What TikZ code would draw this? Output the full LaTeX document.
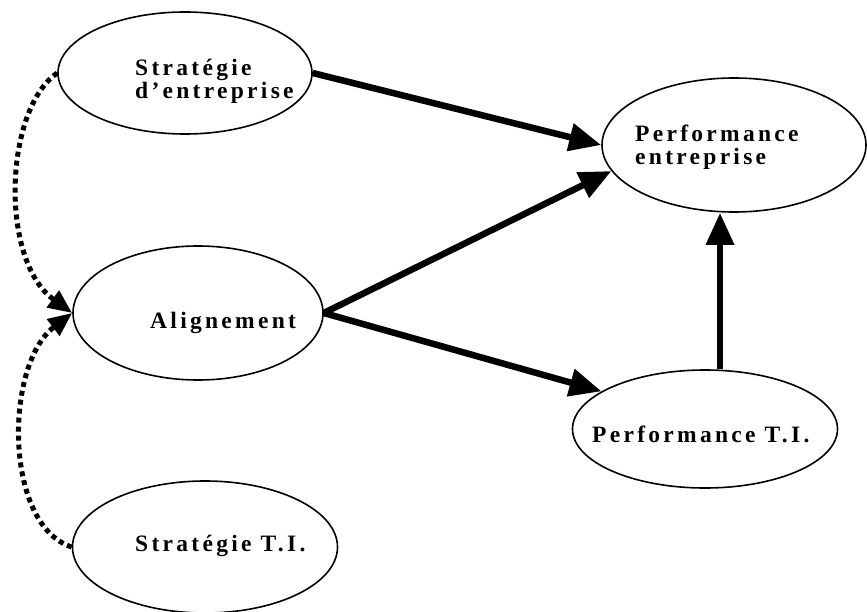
\documentclass[tikz,border=0pt]{standalone}
\usepackage{fontspec}
\usepackage{tikz}
\usetikzlibrary{shapes.geometric,arrows.meta}
\newfontfamily\lblfont[LetterSpace=14]{Liberation Serif}

\tikzset{
  blob/.style={ellipse, draw, line width=1.6pt, inner sep=0pt},
  lbl/.style={anchor=west, inner sep=0pt, align=left,
    font=\lblfont\bfseries\fontsize{23.5}{23}\selectfont},
}

\begin{document}
\begin{tikzpicture}[x=1pt, y=-1pt, >={Triangle[length=32pt,width=27pt]}]
\useasboundingbox (0,0) rectangle (867,612);

\node[blob, minimum width=254pt, minimum height=122pt] (se) at (185,73) {};
\node[blob, minimum width=264pt, minimum height=134pt] (pe) at (734,145) {};
\node[blob, minimum width=250pt, minimum height=134pt] (al) at (198,313) {};
\node[blob, minimum width=265pt, minimum height=118pt] (pt) at (705,429) {};
\node[blob, minimum width=265pt, minimum height=132pt] (st) at (205,547) {};

\node[lbl] (se-t) at (135,81) {Stratégie\\d’entreprise};
\node[lbl] (pe-t) at (635,147) {Performance\\entreprise};
\node[lbl] (al-t) at (150,323) {Alignement};
\node[lbl] (pt-t) at (592,434) {Performance T.I.};
\node[lbl] (st-t) at (135,546) {Stratégie T.I.};

\begin{scope}[line width=6.5pt, ->]
\draw (se.east)--(pe.west);
\draw (al.east)--(pe.192);
\draw (al.east)--(pt.160);
\draw ([xshift=15pt]pt.north)--([xshift=-14pt]pe.south);
\end{scope}

\begin{scope}[line width=5pt, dash pattern=on 5pt off 4pt,
  -{Triangle[length=24pt,width=20pt]}]
\draw (se.west) .. controls +(-53,37) and +(-73,-53) .. (al.west);
\draw (st.west) .. controls +(-68,-22) and +(-68,52) .. (al.west);
\end{scope}

\end{tikzpicture}
\end{document}
